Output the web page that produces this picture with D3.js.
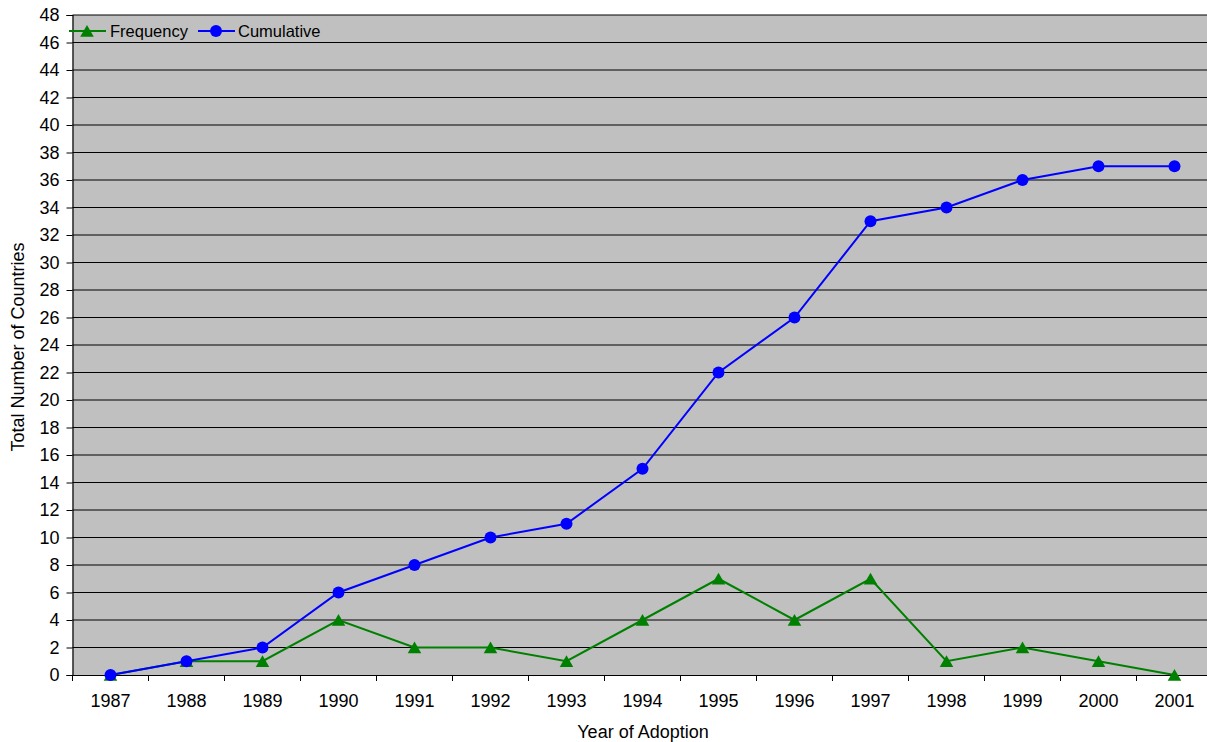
<!DOCTYPE html>
<html>
<head>
<meta charset="utf-8">
<script src="https://cdn.jsdelivr.net/npm/d3@7"></script>
<style>
  html, body { margin: 0; padding: 0; background: #fff; }
  svg { display: block; font-family: "Liberation Sans", Arial, sans-serif; }
</style>
</head>
<body>
<svg id="chart" width="1207" height="742"></svg>
<script>
// Adoption years and counts of countries
const years = ["1987", "1988", "1989", "1990", "1991", "1992", "1993", "1994",
               "1995", "1996", "1997", "1998", "1999", "2000", "2001"];
const frequency = [0, 1, 1, 4, 2, 2, 1, 4, 7, 4, 7, 1, 2, 1, 0];
const cumulative = [0, 1, 2, 6, 8, 10, 11, 15, 22, 26, 33, 34, 36, 37, 37];
const yTicks = d3.range(0, 49, 2);
const seriesNames = ["Frequency", "Cumulative"];

const svg = d3.select("#chart");
const plotLeft = 72.5, plotRight = 1212.5, plotTop = 15, plotBottom = 675;

const x = d3.scaleBand().domain(years).range([plotLeft, plotRight]).padding(0);
const y = d3.scaleLinear().domain([0, 48]).range([plotBottom, plotTop]);
const cx = d => x(d) + x.bandwidth() / 2;

// plot background
svg.append("rect")
  .attr("x", plotLeft).attr("y", plotTop)
  .attr("width", plotRight - plotLeft).attr("height", plotBottom - plotTop)
  .attr("fill", "#c0c0c0");

// horizontal gridlines
svg.append("g").selectAll("line")
  .data(yTicks.filter(t => t > 0))
  .join("line")
  .attr("x1", plotLeft).attr("x2", plotRight)
  .attr("y1", d => y(d)).attr("y2", d => y(d))
  .attr("stroke", "#000").attr("stroke-width", 1);

// y axis
const yAxis = svg.append("g")
  .attr("transform", `translate(${plotLeft},0)`)
  .call(d3.axisLeft(y).tickValues(yTicks).tickSize(6).tickPadding(7).tickFormat(d3.format("d")));
yAxis.select(".domain").attr("stroke", "#000").attr("stroke-width", 1.2);
yAxis.selectAll(".tick line").attr("stroke", "#000");
yAxis.selectAll(".tick text").attr("font-size", 18).attr("fill", "#000")
  .attr("font-family", "Liberation Sans, Arial, sans-serif");

// x axis with ticks at category boundaries
const xAxis = svg.append("g")
  .attr("transform", `translate(0,${plotBottom})`)
  .call(d3.axisBottom(x).tickSize(0).tickPadding(19));
xAxis.select(".domain").attr("stroke", "#000").attr("stroke-width", 1.2);
xAxis.selectAll(".tick text").attr("font-size", 18).attr("fill", "#000")
  .attr("font-family", "Liberation Sans, Arial, sans-serif");
svg.append("g").selectAll("line")
  .data(years)
  .join("line")
  .attr("x1", d => x(d)).attr("x2", d => x(d))
  .attr("y1", plotBottom).attr("y2", plotBottom + 6)
  .attr("stroke", "#000");

// axis titles
svg.append("text")
  .attr("x", 643).attr("y", 738)
  .attr("text-anchor", "middle").attr("font-size", 18).attr("fill", "#000")
  .text("Year of Adoption");
svg.append("text")
  .attr("transform", "translate(24,347) rotate(-90)")
  .attr("text-anchor", "middle").attr("font-size", 18).attr("fill", "#000")
  .text("Total Number of Countries");

// series
const line = d3.line().x((d, i) => cx(years[i])).y(d => y(d));
const triangle = d3.symbol().type(d3.symbolTriangle).size(80);
const triShift = 1.8; // centre the triangle's box on the value

svg.append("path").datum(frequency)
  .attr("d", line).attr("fill", "none")
  .attr("stroke", "#008000").attr("stroke-width", 2);
svg.append("g").selectAll("path")
  .data(frequency)
  .join("path")
  .attr("d", triangle)
  .attr("transform", (d, i) => `translate(${cx(years[i])},${y(d) + triShift})`)
  .attr("fill", "#008000");

svg.append("path").datum(cumulative)
  .attr("d", line).attr("fill", "none")
  .attr("stroke", "#0000ff").attr("stroke-width", 2);
svg.append("g").selectAll("circle")
  .data(cumulative)
  .join("circle")
  .attr("cx", (d, i) => cx(years[i]))
  .attr("cy", d => y(d))
  .attr("r", 6)
  .attr("fill", "#0000ff");

// legend
const legendY = 31;
const lg = svg.append("g");
lg.append("line").attr("x1", 69).attr("x2", 106).attr("y1", legendY).attr("y2", legendY)
  .attr("stroke", "#008000").attr("stroke-width", 2);
lg.append("path").attr("d", triangle).attr("transform", `translate(87,${legendY + triShift})`).attr("fill", "#008000");
lg.append("text").attr("x", 110).attr("y", legendY + 6).attr("font-size", 16.5).attr("fill", "#000").text(seriesNames[0]);
lg.append("line").attr("x1", 198).attr("x2", 235).attr("y1", legendY).attr("y2", legendY)
  .attr("stroke", "#0000ff").attr("stroke-width", 2);
lg.append("circle").attr("cx", 216).attr("cy", legendY).attr("r", 6).attr("fill", "#0000ff");
lg.append("text").attr("x", 238).attr("y", legendY + 6).attr("font-size", 16.5).attr("fill", "#000").text(seriesNames[1]);
</script>
</body>
</html>
